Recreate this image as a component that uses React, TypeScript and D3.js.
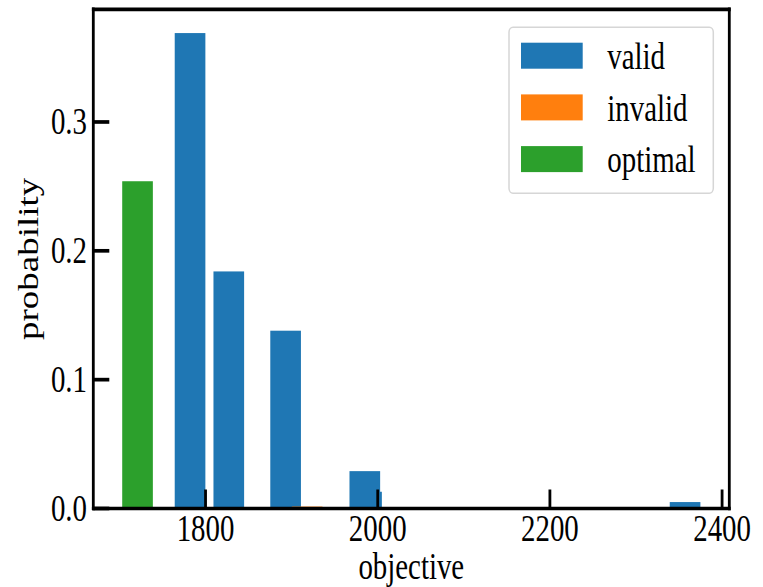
import React, { useEffect, useRef } from 'react'
import * as d3 from 'd3'

// probability of each sampled objective value
const validObjective = [1782, 1827, 1893, 1987, 1985, 2357]
const validProbability = [0.369, 0.184, 0.138, 0.013, 0.029, 0.005]
const invalidObjective = [1918]
const invalidProbability = [0.0015]
const optimalObjective = [1721]
const optimalProbability = [0.254]
const barWidth = 35.6

const xTicks = [1800, 2000, 2200, 2400]
const yTicks = [0, 0.1, 0.2, 0.3]
const legendLabels = ['valid', 'invalid', 'optimal']
const colors = ['#1f77b4', '#ff7f0e', '#2ca02c']

const width = 763, height = 587
const box = { left: 93.3, right: 729.3, top: 9.3, bottom: 508.5 }
const sx = 0.78 // the figure is squeezed horizontally
const font = '"Liberation Serif", "Times New Roman", serif'
const fontSize = 37

const App = () => {
    const ref = useRef<SVGSVGElement>(null)

    useEffect(() => {
        const svg = d3.select(ref.current)
        svg.selectAll('*').remove()

        const series = [
            { xs: validObjective, ys: validProbability, color: colors[0] },
            { xs: invalidObjective, ys: invalidProbability, color: colors[1] },
            { xs: optimalObjective, ys: optimalProbability, color: colors[2] },
        ]

        const allX = series.flatMap(s => s.xs)
        const lo = d3.min(allX)! - barWidth / 2, hi = d3.max(allX)! + barWidth / 2
        const pad = (hi - lo) * 0.05
        const x = d3.scaleLinear().domain([lo - pad, hi + pad]).range([box.left, box.right])

        const yMax = d3.max(series.flatMap(s => s.ys))! * 1.05
        const y = d3.scaleLinear().domain([0, yMax]).range([box.bottom, box.top])

        // bars
        series.forEach(s => {
            svg.append('g')
                .selectAll('rect')
                .data(s.xs.map((v, i) => [v, s.ys[i]]))
                .enter()
                .append('rect')
                .attr('x', d => x(d[0] - barWidth / 2))
                .attr('width', x(lo + barWidth) - x(lo))
                .attr('y', d => y(d[1]))
                .attr('height', d => y(0) - y(d[1]))
                .attr('fill', s.color)
        })

        // ticks (pointing inwards)
        svg.append('g').selectAll('line')
            .data(xTicks).enter().append('line')
            .attr('x1', d => x(d)).attr('x2', d => x(d))
            .attr('y1', box.bottom).attr('y2', box.bottom - 19)
            .attr('stroke', 'black').attr('stroke-width', 2.8)

        svg.append('g').selectAll('line')
            .data(yTicks).enter().append('line')
            .attr('x1', box.left).attr('x2', box.left + 16)
            .attr('y1', d => y(d)).attr('y2', d => y(d))
            .attr('stroke', 'black').attr('stroke-width', 3.7)

        // spines
        const spines = svg.append('g').attr('stroke', 'black')
        spines.append('line').attr('x1', box.left).attr('x2', box.left)
            .attr('y1', box.top - 1.8).attr('y2', box.bottom + 1.8).attr('stroke-width', 2.8)
        spines.append('line').attr('x1', box.right).attr('x2', box.right)
            .attr('y1', box.top - 1.8).attr('y2', box.bottom + 1.8).attr('stroke-width', 2.8)
        spines.append('line').attr('x1', box.left - 1.4).attr('x2', box.right + 1.4)
            .attr('y1', box.top).attr('y2', box.top).attr('stroke-width', 3.7)
        spines.append('line').attr('x1', box.left - 1.4).attr('x2', box.right + 1.4)
            .attr('y1', box.bottom).attr('y2', box.bottom).attr('stroke-width', 3.7)

        const label = (g: any, tx: number, ty: number, txt: string, anchor: string, rot = 0) =>
            g.append('text')
                .attr('transform', `translate(${tx},${ty}) scale(${sx},1)` + (rot ? ` rotate(${rot})` : ''))
                .attr('text-anchor', anchor)
                .attr('font-family', font)
                .attr('font-size', fontSize)
                .attr('fill', 'black')
                .text(txt)

        xTicks.forEach(t => label(svg, x(t), 541, String(t), 'middle'))
        yTicks.forEach(t => label(svg, 87, y(t) + 12.5, t.toFixed(1), 'end'))

        label(svg, (box.left + box.right) / 2, 579, 'objective', 'middle')
        label(svg, 38.3, (box.top + box.bottom) / 2, 'probability', 'middle', -90)

        // legend
        const legend = svg.append('g')
        legend.append('rect')
            .attr('x', 509).attr('y', 27.3)
            .attr('width', 204.3).attr('height', 166)
            .attr('rx', 4).attr('ry', 5)
            .attr('fill', 'white').attr('fill-opacity', 0.8)
            .attr('stroke', '#d6d6d6').attr('stroke-width', 1.5)

        legendLabels.forEach((name, i) => {
            const top = 42.7 + i * 51.7
            legend.append('rect')
                .attr('x', 521).attr('y', top)
                .attr('width', 61.7).attr('height', 26)
                .attr('fill', colors[i])
            label(legend, 607.3, top + 26.3, name, 'start')
        })
    })

    return (
        <svg ref={ref} width={width} height={height}
            style={{ position: 'absolute', left: 0, top: 0, background: 'white' }} />
    )
}

export default App
